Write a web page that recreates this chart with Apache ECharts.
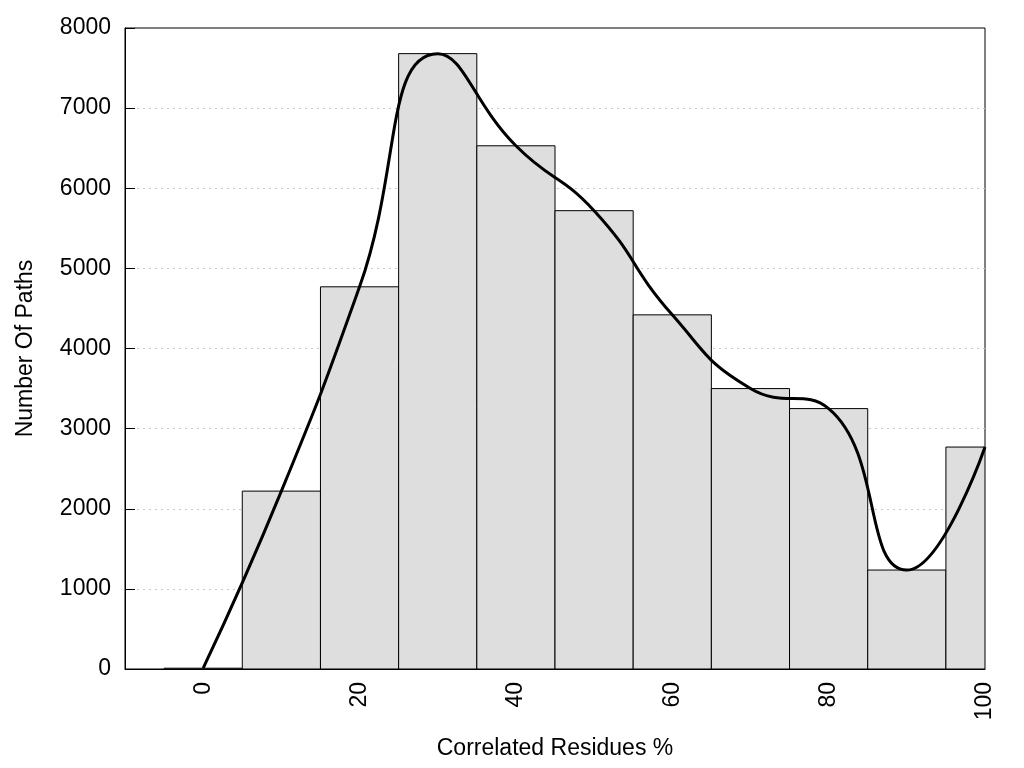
<!DOCTYPE html>
<html>
<head>
<meta charset="utf-8">
<script src="https://cdn.jsdelivr.net/npm/echarts@6/dist/echarts.min.js"></script>
<style>html,body{margin:0;padding:0;background:#fff}#c{width:1024px;height:768px}</style>
</head>
<body>
<div id="c"></div>
<script>
var binCenters = [0, 10, 20, 30, 40, 50, 60, 70, 80, 90, 100];
var pathCounts = [10, 2220, 4770, 7680, 6530, 5720, 4420, 3500, 3250, 1235, 2770];
var xTickLabels = [0, 20, 40, 60, 80, 100];
var binWidth = 10;

var chart = echarts.init(document.getElementById('c'));
var pts = binCenters.map(function (x, i) { return [x, pathCounts[i]]; });
var font = 'Liberation Sans, Arial, sans-serif';

chart.setOption({
  animation: false,
  backgroundColor: '#fff',
  grid: { left: 125, right: 39, top: 28, bottom: 99, show: true, borderColor: '#000', borderWidth: 1, backgroundColor: 'transparent' },
  xAxis: {
    type: 'value', min: -10, max: 100,
    name: 'Correlated Residues %', nameLocation: 'middle', nameGap: 68,
    nameTextStyle: { fontFamily: font, fontSize: 23, color: '#000' },
    axisLine: { show: true, onZero: false, lineStyle: { color: '#000', width: 1 } },
    axisTick: { show: false },
    splitLine: { show: false },
    axisLabel: { customValues: xTickLabels, rotate: 90, fontFamily: font, fontSize: 23, color: '#000', margin: 13 }
  },
  yAxis: {
    type: 'value', min: 0, max: 8000, interval: 1000,
    name: 'Number Of Paths', nameLocation: 'middle', nameGap: 88,
    nameTextStyle: { fontFamily: font, fontSize: 23, color: '#000' },
    axisLine: { show: true, onZero: false, lineStyle: { color: '#000', width: 1 } },
    axisTick: { show: true, inside: true, length: 10, lineStyle: { color: '#000', width: 1 } },
    splitLine: { show: true, showMinLine: false, showMaxLine: false, lineStyle: { color: '#c8c8c8', type: [2, 4], width: 1 } },
    axisLabel: { fontFamily: font, fontSize: 23, color: '#000', margin: 14, formatter: function (v) { return String(v); } }
  },
  series: [
    {
      type: 'custom',
      clip: true,
      data: pts,
      renderItem: function (params, api) {
        var x = api.value(0), y = api.value(1);
        var p1 = api.coord([x - binWidth / 2, y]);
        var p2 = api.coord([x + binWidth / 2, 0]);
        var rect = { x: p1[0], y: p1[1], width: p2[0] - p1[0], height: p2[1] - p1[1] };
        var cs = params.coordSys;
        rect = echarts.graphic.clipRectByRect(rect, { x: cs.x, y: cs.y, width: cs.width, height: cs.height });
        if (!rect) return null;
        return { type: 'rect', shape: rect, style: { fill: '#dedede', stroke: '#000', lineWidth: 1 } };
      },
      z: 2
    },
    {
      type: 'line',
      data: pts,
      smooth: 0.5,
      symbol: 'none',
      clip: true,
      lineStyle: { color: '#000', width: 3 },
      z: 3
    }
  ]
});
</script>
</body>
</html>
